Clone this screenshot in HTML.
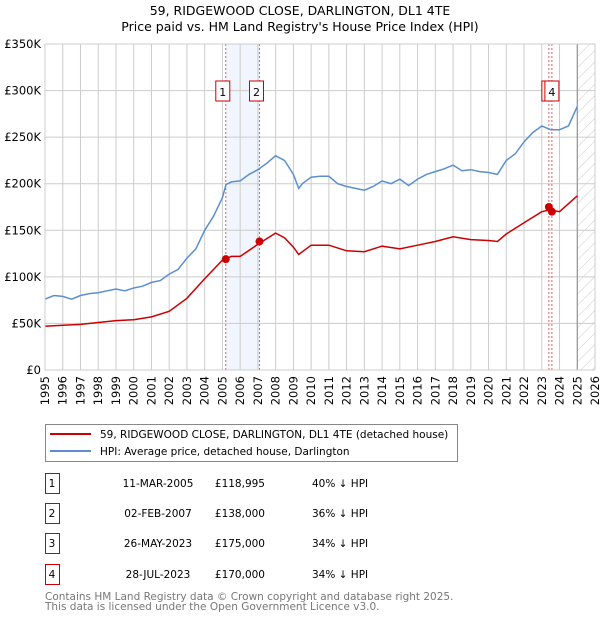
<!DOCTYPE html>
<html><head><meta charset="utf-8"><style>
body{margin:0;background:#fff;font-family:"DejaVu Sans","Liberation Sans",sans-serif;}
svg text{font-family:"DejaVu Sans","Liberation Sans",sans-serif;}
</style></head><body>
<svg id="chart" width="600" height="620" xmlns="http://www.w3.org/2000/svg">
<defs><pattern id="hatch" width="8" height="8" patternUnits="userSpaceOnUse" patternTransform="rotate(45)"><line x1="0" y1="0" x2="0" y2="8" stroke="#ccc" stroke-width="1"/></pattern></defs>
<text x="300" y="15" font-size="12.5" text-anchor="middle">59, RIDGEWOOD CLOSE, DARLINGTON, DL1 4TE</text>
<text x="300" y="31" font-size="12.5" text-anchor="middle">Price paid vs. HM Land Registry's House Price Index (HPI)</text>
<g id="plot"></g>
<g>
<rect x="45.5" y="424.5" width="412" height="37" fill="#fff" stroke="#888"/>
<line x1="50" y1="434" x2="91" y2="434" stroke="#cc0000" stroke-width="2"/>
<text x="100" y="438" font-size="10.5">59, RIDGEWOOD CLOSE, DARLINGTON, DL1 4TE (detached house)</text>
<line x1="50" y1="451" x2="91" y2="451" stroke="#5b8fd0" stroke-width="2"/>
<text x="100" y="455" font-size="10.5">HPI: Average price, detached house, Darlington</text>
</g>
<g id="table" font-size="10.5"></g>
<text x="45" y="600" font-size="10.5" fill="#777">Contains HM Land Registry data © Crown copyright and database right 2025.</text>
<text x="45" y="610" font-size="10.5" fill="#777">This data is licensed under the Open Government Licence v3.0.</text>
</svg>
<script>
const hpiYears=[1995,1995.5,1996,1996.5,1997,1997.5,1998,1998.5,1999,1999.5,2000,2000.5,2001,2001.5,2002,2002.5,2003,2003.5,2004,2004.5,2005,2005.2,2005.5,2006,2006.5,2007,2007.5,2008,2008.5,2009,2009.3,2009.5,2010,2010.5,2011,2011.5,2012,2012.5,2013,2013.5,2014,2014.5,2015,2015.5,2016,2016.5,2017,2017.5,2018,2018.5,2019,2019.5,2020,2020.5,2021,2021.5,2022,2022.5,2023,2023.5,2024,2024.5,2025];
const hpiValues=[76,80,79,76,80,82,83,85,87,85,88,90,94,96,103,108,120,130,150,165,185,199,202,203,210,215,222,230,225,210,195,200,207,208,208,200,197,195,193,197,203,200,205,198,205,210,213,216,220,214,215,213,212,210,225,232,245,255,262,258,258,262,283];
const paidYears=[1995,1996,1997,1998,1999,2000,2001,2002,2003,2004,2005,2005.5,2006,2007,2008,2008.5,2009,2009.3,2010,2011,2012,2013,2014,2015,2016,2017,2018,2019,2020,2020.5,2021,2022,2023,2023.5,2024,2025];
const paidValues=[47,48,49,51,53,54,57,63,77,98,118,122,122,135,147,142,132,124,134,134,128,127,133,130,134,138,143,140,139,138,146,158,170,172,170,187];
const saleLabels=["1","2","3","4"];
const saleYears=[2005.19,2007.09,2023.4,2023.57];
const saleValues=[118.995,138,175,170];
const saleDates=["11-MAR-2005","02-FEB-2007","26-MAY-2023","28-JUL-2023"];
const salePrices=["£118,995","£138,000","£175,000","£170,000"];
const saleDiffs=["40% ↓ HPI","36% ↓ HPI","34% ↓ HPI","34% ↓ HPI"];
const yTicks=[0,50,100,150,200,250,300,350];
const yTickLabels=["£0","£50K","£100K","£150K","£200K","£250K","£300K","£350K"];
const xTicks=[1995,1996,1997,1998,1999,2000,2001,2002,2003,2004,2005,2006,2007,2008,2009,2010,2011,2012,2013,2014,2015,2016,2017,2018,2019,2020,2021,2022,2023,2024,2025,2026];

const NS="http://www.w3.org/2000/svg";
const X0=45,X1=595,Y0=370,Y1=44;
const xs=y=>X0+(y-1995)/(2026-1995)*(X1-X0);
const ys=v=>Y0-v/350*(Y0-Y1);
const plot=document.getElementById('plot');
function mk(tag,attrs,parent){const e=document.createElementNS(NS,tag);for(const k in attrs)e.setAttribute(k,attrs[k]);(parent||plot).appendChild(e);return e;}

const shade=mk('rect',{x:xs(saleYears[0]),y:Y1,width:xs(saleYears[1])-xs(saleYears[0]),height:Y0-Y1,fill:'#f1f5fd'});


const hatch=mk('rect',{x:xs(2025),y:Y1,width:X1-xs(2025),height:Y0-Y1,fill:'url(#hatch)'});



yTicks.forEach((t,i)=>{
  const g=mk('line',{x1:X0,x2:X1,y1:ys(t),y2:ys(t),stroke:'#ccc','stroke-width':1});
  
  
  const tx=mk('text',{x:X0-4,y:ys(t)+4,'font-size':11.5,'text-anchor':'end'});
  tx.textContent=yTickLabels[i];
  
  
});
xTicks.forEach(t=>{
  const g=mk('line',{x1:xs(t),x2:xs(t),y1:Y1,y2:Y0,stroke:'#ccc','stroke-width':1});
  
  
  const tx=mk('text',{x:0,y:0,'font-size':11.5,'text-anchor':'end',transform:`translate(${xs(t)+4},${Y0+6}) rotate(-90)`});
  tx.textContent=t;
  
  
});
const nowLine=mk('line',{x1:xs(2025),x2:xs(2025),y1:Y1,y2:Y0,stroke:'#888','stroke-width':1});



saleYears.forEach(y=>{
  const l=mk('line',{x1:xs(y),x2:xs(y),y1:Y1,y2:Y0,stroke:'#e06060','stroke-width':1,'stroke-dasharray':'2,2'});
  
  
});

function pathOf(xa,va){return xa.map((y,i)=>(i?'L':'M')+xs(y).toFixed(1)+','+ys(va[i]).toFixed(1)).join('');}
const hp=mk('path',{d:pathOf(hpiYears,hpiValues),fill:'none',stroke:'#5b8fd0','stroke-width':1.5});


const pp=mk('path',{d:pathOf(paidYears,paidValues),fill:'none',stroke:'#cc0000','stroke-width':1.5});



const badgeOffsets=[-10,-10,-7,-7];
saleYears.forEach((y,i)=>{
  const c=mk('circle',{cx:xs(y),cy:ys(saleValues[i]),r:4,fill:'#cc0000'});
  
  
  const by=81;
  const r=mk('rect',{x:xs(y)+badgeOffsets[i],y:by,width:14,height:20,fill:'#fff',stroke:'#c00','stroke-width':1});
  
  
  const t=mk('text',{x:xs(y)+badgeOffsets[i]+7,y:by+15,'font-size':11,'text-anchor':'middle'});
  t.textContent=(i===2?'':saleLabels[i]);
  
  
});
mk('rect',{x:X0,y:Y1,width:X1-X0,height:Y0-Y1,fill:'none',stroke:'#ccc'});

const tbl=document.getElementById('table');
const rowY=[483,513,543,574];
saleLabels.forEach((l,i)=>{
  const r=mk('rect',{x:45.5,y:rowY[i]-9.5,width:14,height:20,fill:'#fff',stroke:'#c00'},tbl);
  
  
  const cells=[[52,l,'middle'],[158,saleDates[i],'middle'],[265,salePrices[i],'end'],[312,saleDiffs[i],'start']];
  cells.forEach(c=>{
    const t=mk('text',{x:c[0],y:rowY[i]+4,'text-anchor':c[2]},tbl);
    t.textContent=c[1];
    
    
  });
});
</script>
</body></html>
